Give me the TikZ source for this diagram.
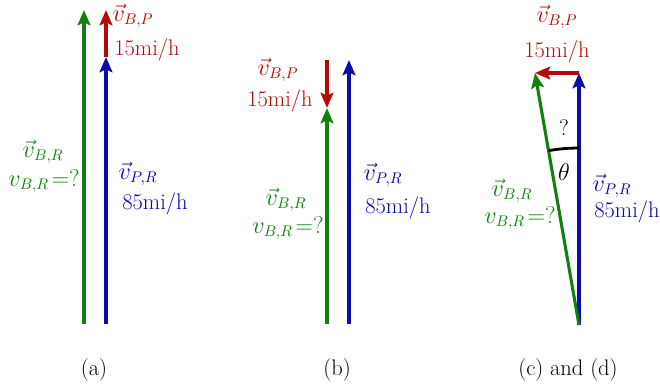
\documentclass[tikz,border=0pt]{standalone}
\usepackage{amsmath}
\usepackage{xcolor}
\usetikzlibrary{arrows.meta}

\definecolor{vgreen}{RGB}{17,128,17}
\definecolor{vblue}{RGB}{10,10,175}
\definecolor{vred}{RGB}{180,10,10}

\newcommand{\vlab}[1]{$\vec{v}_{#1}$}
\newcommand{\vmag}[1]{$v_{#1}\!=?$}

\begin{document}
\begin{tikzpicture}[
    x=0.025cm, y=-0.025cm,
    vec/.style={
        -{Stealth[length=0.38cm, width=0.32cm, inset=0.07cm]},
        line width=2.2pt
    },
    lbl/.style={
        font=\fontsize{16}{19}\selectfont,
        inner sep=1pt
    },
    caption/.style={
        font=\fontsize{16}{19}\selectfont,
        text=black
    }
]
\useasboundingbox (0,0) rectangle (660,383);

% (a)
\coordinate (ga0) at (84,324);
\coordinate (ga1) at (84,10);
\coordinate (pa0) at (106,324);
\coordinate (pa1) at (106,57);
\coordinate (ba1) at (106,10);
\draw[vec, vblue] (pa0) -- (pa1);
\draw[vec, vred] (pa1) -- (ba1);
\draw[vec, vgreen] (ga0) -- (ga1);

\node[lbl, text=vred] (abp) at (133,16) {\vlab{B,P}};
\node[lbl, text=vred] (abps) at (147,50) {15mi/h};
\node[lbl, text=vgreen] (abr) at (43,152) {\vlab{B,R}};
\node[lbl, text=vgreen] (abrq) at (44,181) {\vmag{B,R}};
\node[lbl, text=vblue] (apr) at (138,174) {\vlab{P,R}};
\node[lbl, text=vblue] (aprs) at (155,204) {85mi/h};
\node[caption] (capa) at (94,370) {(a)};

% (b)
\coordinate (gb0) at (327,324);
\coordinate (gb1) at (327,108);
\coordinate (bb0) at (327,60);
\coordinate (pb0) at (349,324);
\coordinate (pb1) at (349,60);
\draw[vec, vgreen] (gb0) -- (gb1);
\draw[vec, vred] (bb0) -- (gb1);
\draw[vec, vblue] (pb0) -- (pb1);

\node[lbl, text=vred] (bbp) at (278,70) {\vlab{B,P}};
\node[lbl, text=vred] (bbps) at (280,101) {15mi/h};
\node[lbl, text=vgreen] (bbr) at (286,200) {\vlab{B,R}};
\node[lbl, text=vgreen] (bbrq) at (288,228) {\vmag{B,R}};
\node[lbl, text=vblue] (bpr) at (383,175) {\vlab{P,R}};
\node[lbl, text=vblue] (bprs) at (398,208) {85mi/h};
\node[caption] (capb) at (337,370) {(b)};

% (c) and (d)
\coordinate (c0) at (579,325);
\coordinate (pc1) at (579,73);
\coordinate (gc1) at (535,73);
\draw[vec, vblue] (c0) -- (pc1);
\draw[vec, vred] (pc1) -- (gc1);
\draw[vec, vgreen] (c0) -- (gc1);
\draw[line width=2pt] (c0) ++(0,-177) arc[start angle=-90, end angle=-99.9, radius=177];

\node[lbl] (cq) at (564,128) {?};
\node[lbl] (cth) at (564,172) {$\theta$};
\node[lbl, text=vred] (cbp) at (557,17) {\vlab{B,P}};
\node[lbl, text=vred] (cbps) at (557,52) {15mi/h};
\node[lbl, text=vgreen] (cbr) at (512,191) {\vlab{B,R}};
\node[lbl, text=vgreen] (cbrq) at (520,218) {\vmag{B,R}};
\node[lbl, text=vblue] (cpr) at (612,186) {\vlab{P,R}};
\node[lbl, text=vblue] (cprs) at (627,212) {85mi/h};
\node[caption] (capc) at (568,370) {(c) and (d)};
\end{tikzpicture}
\end{document}
